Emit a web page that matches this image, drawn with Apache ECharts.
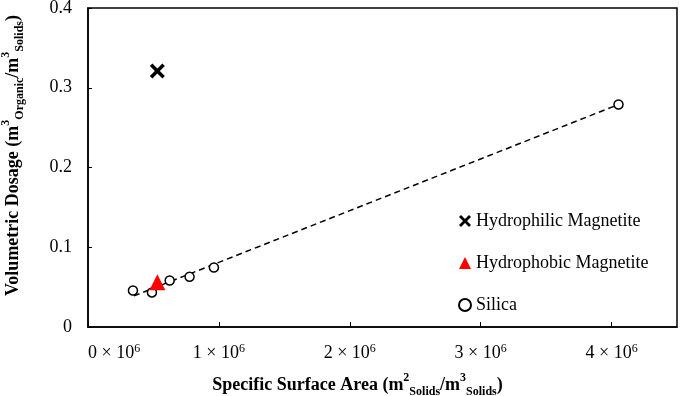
<!DOCTYPE html>
<html>
<head>
<meta charset="utf-8">
<script src="https://cdn.jsdelivr.net/npm/echarts@6/dist/echarts.min.js"></script>
<style>
  html, body { margin: 0; padding: 0; background: #fff; }
  #main { width: 680px; height: 396px; }
</style>
</head>
<body>
<div id="main"></div>
<script>
// values
const xTicks = [0, 1e6, 2e6, 3e6, 4e6];
const yTicks = [0, 0.1, 0.2, 0.3, 0.4];

const philicX = [0.53e6];
const philicY = [0.321];

const phobicX = [0.53e6];
const phobicY = [0.056];

const silicaX = [0.3435e6, 0.4885e6, 0.624e6, 0.776e6, 0.962e6, 4.053e6];
const silicaY = [0.0458, 0.0433, 0.0583, 0.063, 0.0746, 0.279];

// dashed trend line, two end points
const trendX = [0.351e6, 4.053e6];
const trendY = [0.039, 0.279];

const FONT = "'Liberation Serif', 'Times New Roman', serif";

function pairs(xs, ys) {
  return xs.map((x, i) => [x, ys[i]]);
}

// thick X marker
const crossPath = 'path://M0,2 L2,0 L6,4 L10,0 L12,2 L8,6 L12,10 L10,12 L6,8 L2,12 L0,10 L4,6 Z';

const chart = echarts.init(document.getElementById('main'));

const titleRich = {
  b: { fontFamily: FONT, fontSize: 18, fontWeight: 'bold', color: '#000', lineHeight: 26 },
  sup: { fontFamily: FONT, fontSize: 12, fontWeight: 'bold', color: '#000', verticalAlign: 'top' },
  sub: { fontFamily: FONT, fontSize: 12, fontWeight: 'bold', color: '#000', verticalAlign: 'bottom' }
};

const option = {
  animation: false,
  backgroundColor: '#fff',
  grid: {
    left: 88,
    top: 8,
    right: 3,
    bottom: 69,
    containLabel: false,
    outerBoundsMode: 'none',
    show: true,
    borderColor: '#000',
    borderWidth: 1.5,
    backgroundColor: 'transparent'
  },
  legend: {
    orient: 'vertical',
    left: 453,
    top: 206,
    itemWidth: 12,
    itemHeight: 12,
    itemGap: 22,
    textStyle: { fontFamily: FONT, fontSize: 18, color: '#000', lineHeight: 20 },
    data: ['Hydrophilic Magnetite', 'Hydrophobic Magnetite', 'Silica']
  },
  xAxis: {
    type: 'value',
    min: 0,
    max: 4.5e6,
    interval: 1e6,
    splitLine: { show: false },
    axisLine: { lineStyle: { color: '#000', width: 1.5 } },
    axisTick: { inside: true, length: 5, lineStyle: { color: '#000', width: 1 } },
    axisLabel: {
      margin: 16,
      showMaxLabel: false,
      alignMinLabel: 'left',
      formatter: function (v) {
        return '{a|' + Math.round(v / 1e6) + ' × 10}{s|6}';
      },
      rich: {
        a: { fontFamily: FONT, fontSize: 18, color: '#000', lineHeight: 20 },
        s: { fontFamily: FONT, fontSize: 12, color: '#000', verticalAlign: 'top' }
      }
    },
    name: '{b|Specific Surface Area (m}{sup|2}{sub|Solids}{b|/m}{sup|3}{sub|Solids}{b|)}',
    nameLocation: 'middle',
    nameGap: 45,
    nameTextStyle: { rich: titleRich, padding: [0, 50, 0, 0] }
  },
  yAxis: {
    type: 'value',
    min: 0,
    max: 0.4,
    interval: 0.1,
    splitLine: { show: false },
    axisLine: { lineStyle: { color: '#000', width: 1.5 } },
    axisTick: { inside: true, length: 4, lineStyle: { color: '#000', width: 1 } },
    axisLabel: {
      margin: 16,
      fontFamily: FONT,
      fontSize: 18,
      color: '#000',
      formatter: function (v) {
        return v === 0 ? '0' : v.toFixed(1);
      }
    },
    name: '{b|Volumetric Dosage (m}{sup|3}{sub|Organic}{b|/m}{sup|3}{sub|Solids}{b|)}',
    nameLocation: 'middle',
    nameRotate: 90,
    nameGap: 62,
    nameTextStyle: { rich: titleRich, padding: [0, 0, 0, 24] }
  },
  series: [
    {
      name: 'trend',
      type: 'line',
      data: pairs(trendX, trendY),
      symbol: 'none',
      silent: true,
      lineStyle: { color: '#000', width: 1.5, type: [6, 4] },
      z: 1
    },
    {
      name: 'Hydrophilic Magnetite',
      type: 'scatter',
      data: pairs(philicX, philicY),
      symbol: crossPath,
      symbolSize: 15,
      itemStyle: { color: '#000', opacity: 1 },
      z: 3
    },
    {
      name: 'Hydrophobic Magnetite',
      type: 'scatter',
      data: pairs(phobicX, phobicY),
      symbol: 'triangle',
      symbolSize: 16,
      itemStyle: { color: '#ff0000', opacity: 1 },
      z: 3
    },
    {
      name: 'Silica',
      type: 'scatter',
      data: pairs(silicaX, silicaY),
      symbol: 'circle',
      symbolSize: 9,
      itemStyle: { color: '#fff', borderColor: '#000', borderWidth: 1.5, opacity: 1 },
      z: 2
    }
  ]
};

chart.setOption(option);
</script>
</body>
</html>
